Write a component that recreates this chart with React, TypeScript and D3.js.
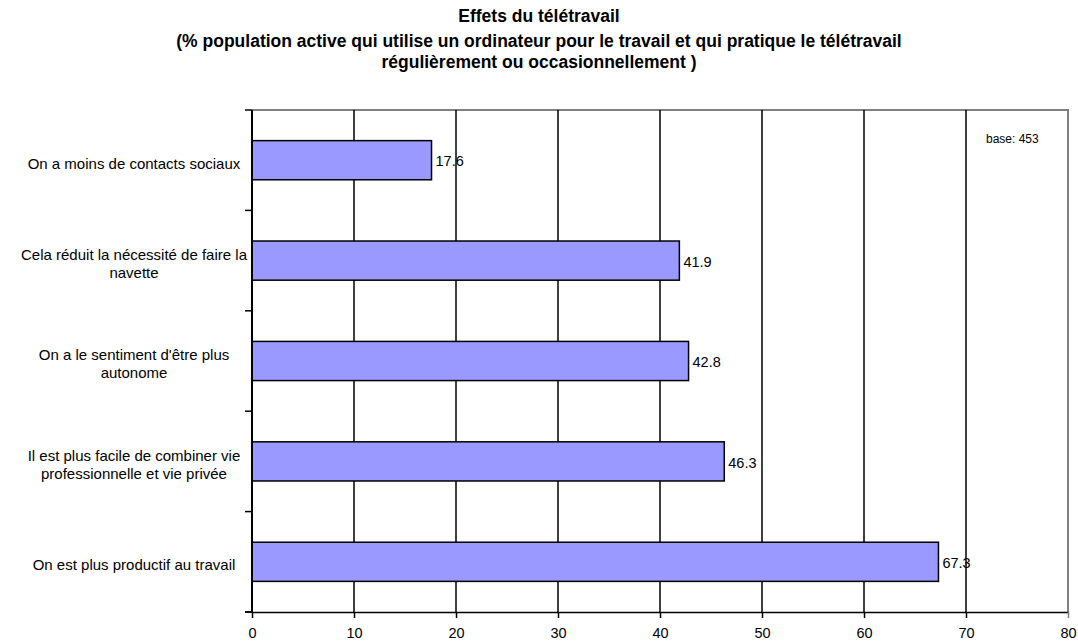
import { useRef, useEffect } from "react";
import * as d3 from "d3";

const titleLines = [
    "Effets du télétravail",
    "(% population active qui utilise un ordinateur pour le travail et qui pratique le télétravail",
    "régulièrement ou occasionnellement )",
];

// categories from top to bottom, already wrapped as in the original
const categories = [
    ["On a moins de contacts sociaux"],
    ["Cela réduit la nécessité de faire la", "navette"],
    ["On a le sentiment d'être plus", "autonome"],
    ["Il est plus facile de combiner vie", "professionnelle et vie privée"],
    ["On est plus productif au travail"],
];
const values = [17.6, 41.9, 42.8, 46.3, 67.3];
const xTicks = [0, 10, 20, 30, 40, 50, 60, 70, 80];
const note = "base: 453";

const W = 1078;
const H = 644;
const FONT = "'Liberation Sans', Arial, sans-serif";

export default function App() {
    const svgRef = useRef<SVGSVGElement | null>(null);

    useEffect(() => {
        if (!svgRef.current) return;
        const svg = d3.select(svgRef.current);
        svg.selectAll("*").remove();

        const margin = { top: 110, right: 10, bottom: 32, left: 252 };
        const x = d3.scaleLinear().domain([0, 80]).range([margin.left, W - margin.right]);
        const keys = categories.map((_, i) => String(i));
        const y = d3.scaleBand().domain(keys).range([margin.top, H - margin.bottom]).padding(0);
        const barH = y.bandwidth() * 0.39;

        // title
        const titleY = [22, 47, 68];
        svg.append("g")
            .selectAll("text")
            .data(titleLines)
            .enter()
            .append("text")
            .attr("x", W / 2)
            .attr("y", (_d, i) => titleY[i])
            .attr("text-anchor", "middle")
            .attr("font-family", FONT)
            .attr("font-weight", "bold")
            .attr("font-size", 17.5)
            .text(d => d);

        // plot frame top and right (gray)
        svg.append("path")
            .attr("d", `M${x(0)},${margin.top}H${x(80)}V${H - margin.bottom}`)
            .attr("fill", "none")
            .attr("stroke", "#808080")
            .attr("stroke-width", 2);

        // vertical gridlines
        svg.append("g")
            .selectAll("line")
            .data(xTicks.slice(1, -1))
            .enter()
            .append("line")
            .attr("x1", d => x(d))
            .attr("x2", d => x(d))
            .attr("y1", margin.top)
            .attr("y2", H - margin.bottom)
            .attr("stroke", "#000")
            .attr("stroke-width", 1.5);

        // bars
        svg.append("g")
            .selectAll("rect")
            .data(values)
            .enter()
            .append("rect")
            .attr("x", x(0))
            .attr("y", (_d, i) => y(String(i))! + (y.bandwidth() - barH) / 2)
            .attr("width", d => x(d) - x(0))
            .attr("height", barH)
            .attr("fill", "#9999FF")
            .attr("stroke", "#000")
            .attr("stroke-width", 1.5);

        // value labels
        svg.append("g")
            .selectAll("text")
            .data(values)
            .enter()
            .append("text")
            .attr("x", d => x(d) + 4)
            .attr("y", (_d, i) => y(String(i))! + y.bandwidth() / 2 + 1)
            .attr("dy", "0.36em")
            .attr("font-family", FONT)
            .attr("font-size", 14.5)
            .text(d => d.toFixed(1));

        // x axis
        const xAxis = svg.append("g")
            .attr("transform", `translate(0,${H - margin.bottom})`)
            .call(d3.axisBottom(x).tickValues(xTicks).tickSize(6).tickSizeOuter(0).tickPadding(10));
        xAxis.select(".domain").attr("stroke", "#000").attr("stroke-width", 1.5);
        xAxis.selectAll(".tick line").attr("stroke-width", 1.5);
        xAxis.selectAll("text").attr("font-family", FONT).attr("font-size", 14.5).attr("fill", "#000");
        xAxis.selectAll(".tick").filter((d: any) => d === 80).select("line").attr("stroke", "#808080");
        // extend axis line a bit to the left like the original
        svg.append("line")
            .attr("x1", x(0) - 7).attr("x2", x(0))
            .attr("y1", H - margin.bottom).attr("y2", H - margin.bottom)
            .attr("stroke", "#000").attr("stroke-width", 1.5);

        // y axis line and ticks between categories
        const bounds = keys.map(k => y(k)!).concat([H - margin.bottom]);
        svg.append("line")
            .attr("x1", x(0)).attr("x2", x(0))
            .attr("y1", margin.top).attr("y2", H - margin.bottom)
            .attr("stroke", "#000").attr("stroke-width", 2);
        svg.append("g")
            .selectAll("line")
            .data(bounds)
            .enter()
            .append("line")
            .attr("x1", x(0) - 7)
            .attr("x2", x(0))
            .attr("y1", d => d)
            .attr("y2", d => d)
            .attr("stroke", "#000")
            .attr("stroke-width", 1.5);

        // category labels
        const lineH = 18;
        const catG = svg.append("g");
        categories.forEach((lines, i) => {
            const cy = y(String(i))! + y.bandwidth() / 2 + 3;
            const t = catG.append("text")
                .attr("text-anchor", "middle")
                .attr("font-family", FONT)
                .attr("font-size", 15)
                .attr("fill", "#000");
            lines.forEach((ln, j) => {
                t.append("tspan")
                    .attr("x", 134)
                    .attr("y", cy + (j - (lines.length - 1) / 2) * lineH)
                    .attr("dy", "0.36em")
                    .text(ln);
            });
        });

        // note
        svg.append("text")
            .attr("x", 986)
            .attr("y", 143)
            .attr("font-family", FONT)
            .attr("font-size", 12)
            .text(note);
    }, []);

    return (
        <svg
            ref={svgRef}
            width={W}
            height={H}
            style={{ position: "absolute", left: 0, top: 0, background: "#fff" }}
        />
    );
}
